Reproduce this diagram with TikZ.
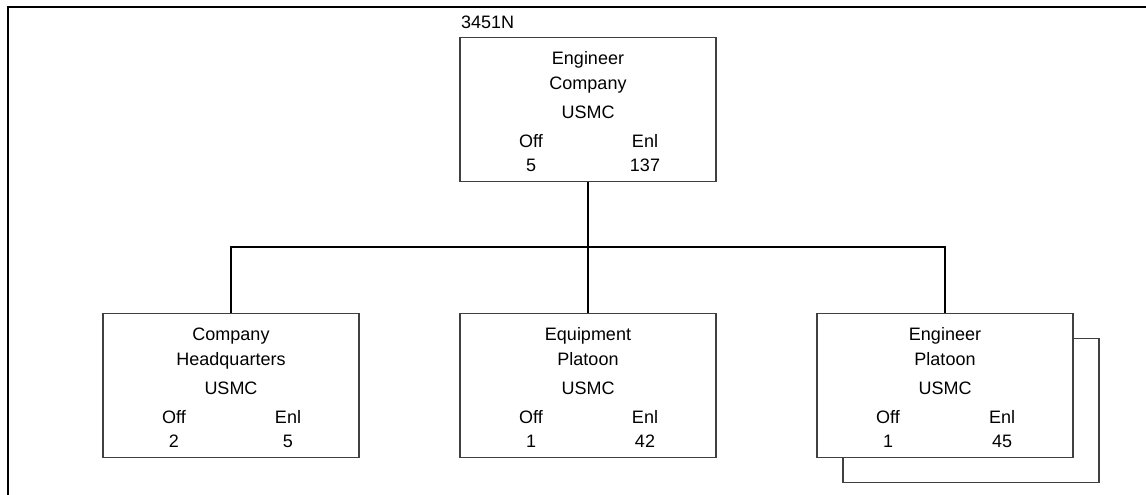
\documentclass[tikz,border=0pt]{standalone}
\usepackage{fontspec}
\setmainfont{Liberation Sans}
\begin{document}
\begin{tikzpicture}[x=1pt, y=-1pt, font=\fontsize{18}{21}\selectfont]
  \tikzset{
    unit/.style={draw=black!75, line width=1.2pt, fill=white, minimum width=256pt,
      minimum height=144pt, inner sep=0pt, anchor=north},
    txt/.style={inner sep=0pt, anchor=base},
    link/.style={line width=1.5pt}
  }
  \useasboundingbox (0,0) rectangle (1146,495);
  % Frame
  \draw[line width=2.5pt] (8,495) -- (8,7) -- (1146,7);
  % Unit code
  \node[inner sep=0pt, anchor=west] (uic) at (461,22) {3451N};
  % Second sheet behind the engineer platoon
  \node[unit] (platshadow) at (971,338) {};
  % Boxes
  \foreach \nm/\cx/\cy/\la/\lb/\off/\enl in {co/588/37/Engineer/Company/5/137,
      hq/231/313/Company/Headquarters/2/5, eqp/588/313/Equipment/Platoon/1/42,
      engp/945/313/Engineer/Platoon/1/45}{
    \node[unit] (\nm) at (\cx,\cy) {};
    \node[txt] (\nm-a) at (\cx,\cy+27) {\la};
    \node[txt] (\nm-b) at (\cx,\cy+52) {\lb};
    \node[txt] (\nm-c) at (\cx,\cy+81) {USMC};
    \node[txt] (\nm-off) at (\cx-57,\cy+110) {Off};
    \node[txt] (\nm-enl) at (\cx+57,\cy+110) {Enl};
    \node[txt] (\nm-no) at (\cx-57,\cy+134) {\off};
    \node[txt] (\nm-ne) at (\cx+57,\cy+134) {\enl};
  }
  % Lines
  \coordinate (bus) at (588,247);
  \draw[link] (co.south) -- (bus);
  \draw[link] (hq.north) |- (bus) -| (engp.north);
  \draw[link] (eqp.north) -- (bus);
\end{tikzpicture}
\end{document}
